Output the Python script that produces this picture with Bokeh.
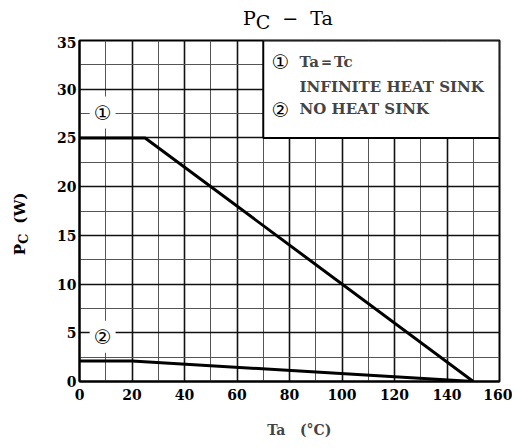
import math
from bokeh.plotting import figure
from bokeh.models import Range1d, SingleIntervalTicker, Label, Div
from bokeh.layouts import column, row
from bokeh.embed import file_html
from bokeh.resources import INLINE

# data
ta1 = [0, 25, 150]
pc1 = [25, 25, 0]
ta2 = [0, 20, 150]
pc2 = [2.1, 2.1, 0]
x_tick_step = 20
y_tick_step = 5

SERIF = "DejaVu Serif"
CIRC = "DejaVu Sans"

p = figure(width=464, height=404, output_backend="svg", toolbar_location=None,
           x_range=Range1d(0, 160), y_range=Range1d(0, 35),
           min_border_left=31, min_border_right=13, min_border_top=4, min_border_bottom=53)
p.title.visible = False
p.background_fill_color = "white"
p.outline_line_color = "black"
p.outline_line_width = 2

xt = SingleIntervalTicker(interval=x_tick_step, num_minor_ticks=2)
yt = SingleIntervalTicker(interval=y_tick_step, num_minor_ticks=2)
p.xaxis.ticker = xt
p.yaxis.ticker = yt
for ax in (p.xaxis[0], p.yaxis[0]):
    ax.axis_line_color = "black"
    ax.axis_line_width = 2
    ax.major_tick_in = 0
    ax.major_tick_out = 0
    ax.minor_tick_in = 0
    ax.minor_tick_out = 0
    ax.major_label_text_font = SERIF
    ax.major_label_text_font_size = "14px"
    ax.major_label_text_font_style = "bold"
    ax.major_label_text_color = "black"
p.xaxis.major_label_standoff = 7
p.yaxis.major_label_standoff = 3

p.xaxis.axis_label = "\u00a0\u00a0\u00a0\u00a0Ta\u00a0\u00a0\u00a0(°C)"
p.xaxis.axis_label_text_font = SERIF
p.xaxis.axis_label_text_font_size = "14px"
p.xaxis.axis_label_text_font_style = "bold"
p.xaxis.axis_label_standoff = 19

for g in (p.xgrid[0], p.ygrid[0]):
    g.grid_line_color = "#111111"
    g.grid_line_width = 1.6
    g.grid_line_alpha = 1
    g.minor_grid_line_color = "#555555"
    g.minor_grid_line_width = 1.0

# legend box covering grid
p.quad(left=[70], right=[160], bottom=[25], top=[35], fill_color="white",
       line_color="black", line_width=2)

p.line(ta1, pc1, line_color="black", line_width=3)
p.line(ta2, pc2, line_color="black", line_width=3)

def xv(px):
    return (px - 79) / 2.625

def yv(py):
    return (387 - py) / 9.914

# curve labels on grid
for txt, x, y in [("①", 8.8, 27.6), ("②", 8.8, 4.6)]:
    p.add_layout(Label(x=x, y=y, text=txt, text_font=CIRC, text_font_size="20px",
                       text_align="center", text_baseline="middle", text_color="black",
                       background_fill_color="white", padding=4))

# legend texts
p.add_layout(Label(x=xv(280), y=yv(62), text="①", text_font=CIRC, text_font_size="20px",
                   text_align="center", text_baseline="middle", text_color="black"))
p.add_layout(Label(x=xv(280), y=yv(111), text="②", text_font=CIRC, text_font_size="20px",
                   text_align="center", text_baseline="middle", text_color="black"))
for txt, py in [("Ta＝Tc", 62), ("INFINITE HEAT SINK", 87), ("NO HEAT SINK", 110)]:
    p.add_layout(Label(x=xv(299), y=yv(py), text=txt, text_font=SERIF, text_font_size="15px",
                       text_font_style="bold",
                       text_align="left", text_baseline="middle"))

title_div = Div(width=512, height=36, margin=0, text=(
    '<div style="position:absolute;left:243px;top:6px;white-space:nowrap;'
    'font-family:\'DejaVu Serif\';font-size:19px;line-height:24px;color:black;">'
    'P<span style="position:relative;top:4px;">C</span>'
    '<span style="margin-left:12px;">−</span>'
    '<span style="margin-left:12px;">Ta</span></div>'))

ylab_div = Div(width=48, height=404, margin=0, text=(
    '<div style="position:absolute;left:-80.5px;top:178px;width:200px;height:20px;'
    'line-height:20px;text-align:center;white-space:nowrap;transform:rotate(-90deg);'
    'font-family:\'DejaVu Serif\';font-size:15px;font-weight:bold;color:black;">'
    'P<span style="position:relative;top:3px;font-size:13px;">C</span>'
    '<span style="margin-left:10px;">(W)</span></div>'))

layout = column(title_div, row(ylab_div, p, spacing=0), spacing=0)

open("out.html", "w").write(file_html(layout, INLINE))
